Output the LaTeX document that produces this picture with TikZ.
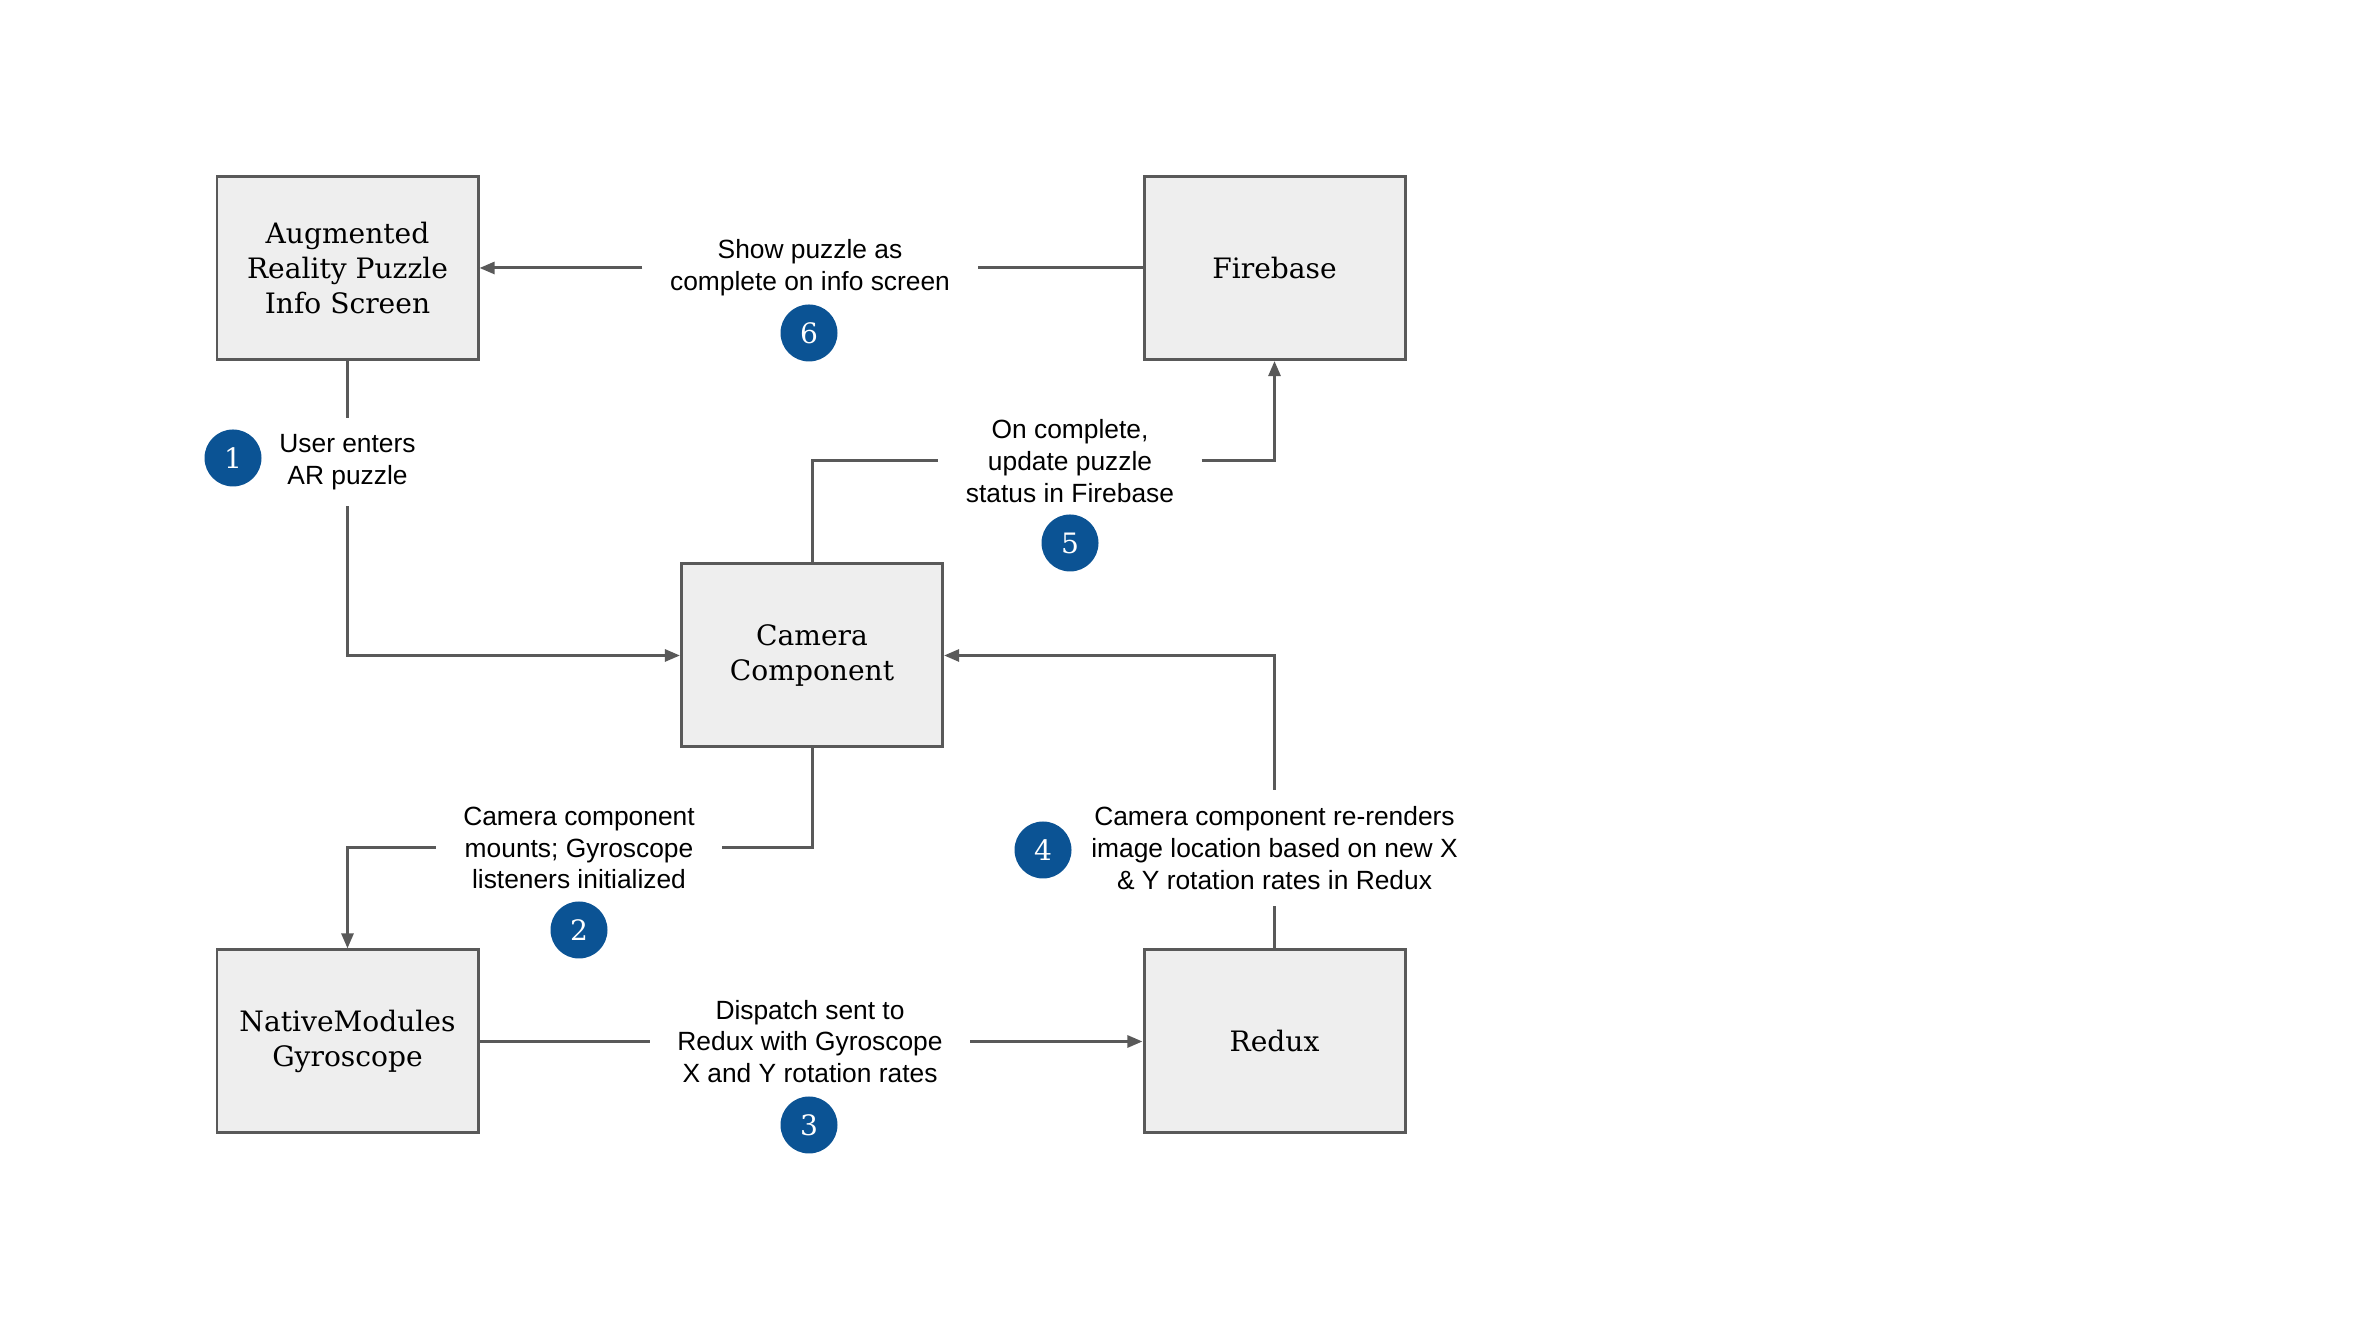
\documentclass[tikz,border=0pt]{standalone}
\usepackage{fontspec}
\newfontfamily\serifbox{DejaVu Serif}
\newfontfamily\sanslabel{Liberation Sans}
\usetikzlibrary{arrows.meta}
\definecolor{linegray}{HTML}{595959}
\definecolor{boxgray}{HTML}{EEEEEE}
\definecolor{stepblue}{HTML}{0B5394}

\begin{document}
\begin{tikzpicture}[
  >={Triangle[length=4.3pt,width=3.4pt]},
  box/.style={draw=linegray, fill=boxgray, line width=0.85pt, minimum width=2.61cm, minimum height=1.83cm, align=center, font=\serifbox\fontsize{8}{9.9}\selectfont},
  lbl/.style={align=center, inner xsep=0.27cm, inner ysep=0.16cm, font=\sanslabel\fontsize{7.5}{9}\selectfont},
  num/.style={circle, fill=stepblue, text=white, minimum size=0.57cm, inner sep=0pt, font=\serifbox\fontsize{8}{9}\selectfont},
  wire/.style={draw=linegray, line width=0.85pt}
]
\useasboundingbox (0,0) rectangle (23.70,13.34);
% boxes
\node [box] (ar) at (3.475,10.66) {Augmented\\Reality Puzzle\\Info Screen};
\node [box] (fb) at (12.745,10.66) {Firebase};
\node [box] (cam) at (8.12,6.785) {Camera\\Component};
\node [box] (nm) at (3.475,2.925) {NativeModules\\Gyroscope};
\node [box] (redux) at (12.745,2.925) {Redux};
% labels
\node [lbl] (l1) at (3.475,8.72) {User enters\\AR puzzle};
\node [lbl] (l2) at (5.79,4.86) {Camera component\\mounts; Gyroscope\\listeners initialized};
\node [lbl] (l3) at (8.10,2.925) {Dispatch sent to\\Redux with Gyroscope\\X and Y rotation rates};
\node [lbl] (l4) at (12.745,4.86) {Camera component re-renders\\image location based on new X\\\& Y rotation rates in Redux};
\node [lbl] (l5) at (10.70,8.73) {On complete,\\update puzzle\\status in Firebase};
\node [lbl] (l6) at (8.10,10.66) {Show puzzle as\\complete on info screen};
% step numbers
\node [num] (n1) at (2.33,8.76) {1};
\node [num] (n2) at (5.79,4.04) {2};
\node [num] (n3) at (8.09,2.09) {3};
\node [num] (n4) at (10.43,4.84) {4};
\node [num] (n5) at (10.70,7.91) {5};
\node [num] (n6) at (8.09,10.01) {6};
% connectors
\draw [wire] (ar.south) -- (l1.north);
\draw [wire,->] (l1.south) |- (cam.west);
\draw [wire] (cam.south) |- (l2.east);
\draw [wire,->] (l2.west) -| (nm.north);
\draw [wire] (nm.east) -- (l3.west);
\draw [wire,->] (l3.east) -- (redux.west);
\draw [wire] (redux.north) -- (l4.south);
\draw [wire,->] (l4.north) |- (cam.east);
\draw [wire] (cam.north) |- (l5.west);
\draw [wire,->] (l5.east) -| (fb.south);
\draw [wire] (fb.west) -- (l6.east);
\draw [wire,->] (l6.west) -- (ar.east);
\end{tikzpicture}
\end{document}
